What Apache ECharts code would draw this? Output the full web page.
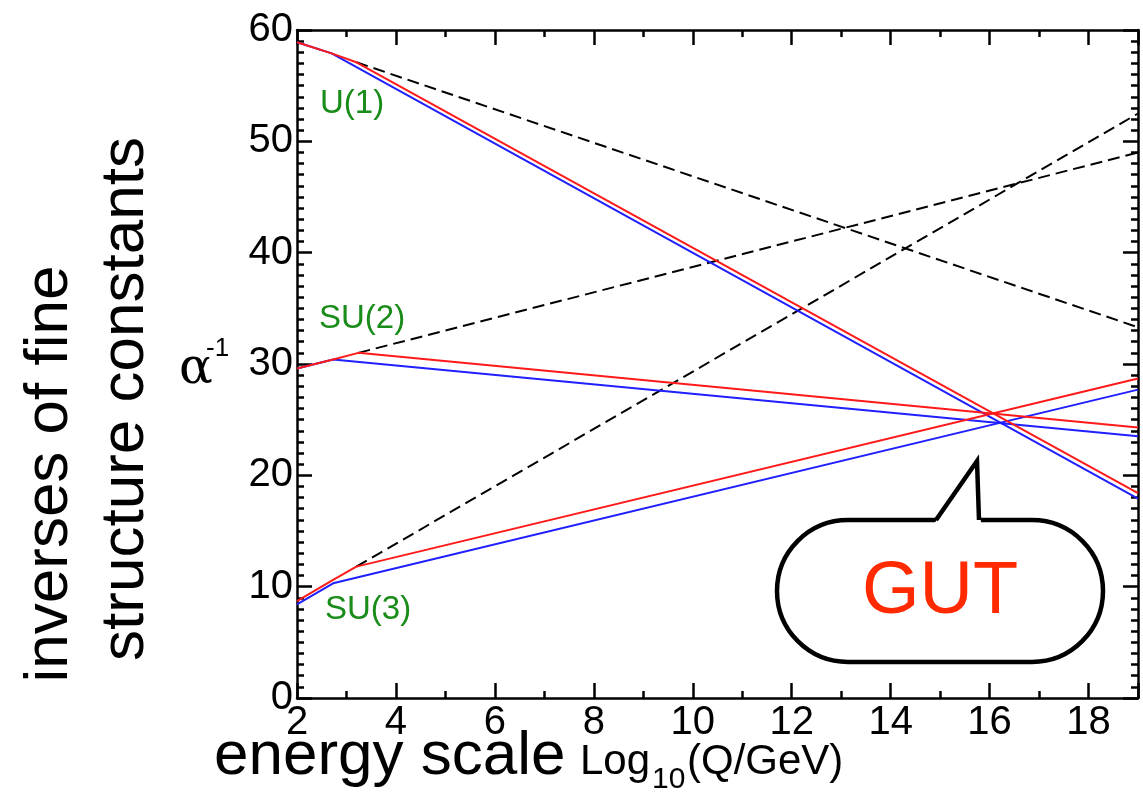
<!DOCTYPE html>
<html><head><meta charset="utf-8">
<script src="https://cdn.jsdelivr.net/npm/echarts@6/dist/echarts.min.js"></script>
<style>html,body{margin:0;padding:0;background:#fff}#c{width:1143px;height:794px}</style>
</head><body><div id="c"></div>
<script>
// ---- data (x = log10(Q/GeV), y = inverse coupling) ----
const u1Blue   = [[2, 58.9], [2.7, 57.9], [19, 17.9]];
const u1Red    = [[2, 58.9], [2.7, 57.9], [3.2, 57.1], [19, 18.4]];
const u1Dash   = [[3.2, 57.1], [19, 33.3]];
const su2Blue  = [[2, 29.6], [2.73, 30.4], [19, 23.5]];
const su2Red   = [[2, 29.6], [2.73, 30.4], [3.24, 31.0], [19, 24.3]];
const su2Dash  = [[3.24, 31.0], [19, 49.0]];
const su3Blue  = [[2, 8.4], [2.73, 10.3], [19, 27.7]];
const su3Red   = [[2, 8.7], [2.73, 10.6], [3.2, 11.8], [19, 28.7]];
const su3Dash  = [[3.2, 11.8], [19, 52.5]];
const groupLabels = ['U(1)', 'SU(2)', 'SU(3)'];
const xMin = 2, xMax = 19, xMajor = 2, xMinor = 1;
const yMin = 0, yMax = 60, yMajor = 10;

const FONT = '"Liberation Sans", Arial, Helvetica, sans-serif';
const BLUE = '#1f1fff', RED = '#ff1a1a', GREEN = '#1a8c1a';

const chart = echarts.init(document.getElementById('c'), null, {renderer: 'canvas'});

const tickStyle = {color: '#000', width: 2.5};
function xAx(pos, interval, len, main) {
  return {
    type: 'value', position: pos, min: xMin, max: xMax, interval: interval,
    axisLine: {show: main, onZero: false, lineStyle: {color: '#000', width: 2.5}},
    axisTick: {show: true, inside: true, length: len, lineStyle: tickStyle},
    axisLabel: (main && pos === 'bottom') ? {
      show: true, fontSize: 40, color: '#000', fontFamily: FONT, margin: 5,
      formatter: v => (v % 2 === 0 ? String(v) : '')
    } : {show: false},
    splitLine: {show: false}
  };
}
function yAx(pos, labels) {
  return {
    type: 'value', position: pos, min: yMin, max: yMax, interval: yMajor,
    axisLine: {show: true, onZero: false, lineStyle: {color: '#000', width: 2.5}},
    axisTick: {show: true, inside: true, length: 15, lineStyle: tickStyle},
    minorTick: {show: true, splitNumber: 10, length: 7, lineStyle: tickStyle},
    axisLabel: labels ? {show: true, fontSize: 40, color: '#000', fontFamily: FONT, margin: 4} : {show: false},
    splitLine: {show: false}, minorSplitLine: {show: false}
  };
}
function ser(data, color, dashed) {
  return {
    type: 'line', data: data, xAxisIndex: 0, yAxisIndex: 0,
    showSymbol: false, symbol: 'none', silent: true, animation: false,
    z: dashed ? 2 : 3,
    lineStyle: {color: color, width: 2, type: dashed ? [12, 6] : 'solid'}
  };
}

const option = {
  animation: false,
  backgroundColor: '#fff',
  grid: {left: 297, right: 5, top: 30, bottom: 96, containLabel: false},
  xAxis: [xAx('bottom', xMajor, 15, true), xAx('bottom', xMinor, 7, false),
          xAx('top', xMajor, 15, true), xAx('top', xMinor, 7, false)],
  yAxis: [yAx('left', true), yAx('right', false)],
  series: [
    ser(u1Dash, '#000', true), ser(su2Dash, '#000', true), ser(su3Dash, '#000', true),
    ser(u1Blue, BLUE), ser(su2Blue, BLUE), ser(su3Blue, BLUE),
    ser(u1Red, RED), ser(su2Red, RED), ser(su3Red, RED)
  ]
};
chart.setOption(option);

function txt(x, y, text, size, opts) {
  opts = opts || {};
  return {
    type: 'text', x: x, y: y, rotation: opts.rot || 0, z: 100,
    style: {
      text: text, fontSize: size, fontFamily: opts.family || FONT, fill: opts.fill || '#000',
      align: opts.align || 'left', verticalAlign: opts.va || 'middle',
      textAlign: opts.align || 'left', textVerticalAlign: opts.va || 'middle'
    }
  };
}

const graphics = [
  // y title (two rotated lines)
  txt(50, 474, 'inverses of fine', 62, {rot: Math.PI / 2, align: 'center'}),
  txt(126, 399, 'structure constants', 62, {rot: Math.PI / 2, align: 'center'}),
  // alpha^-1
  txt(179, 370, 'α', 50, {family: '"DejaVu Serif", "Liberation Serif", serif'}),
  txt(206, 349, '-1', 26),
  // x title
  txt(214, 757, 'energy scale', 62),
  txt(580, 762, 'Log', 42),
  txt(652, 780, '10', 30),
  txt(687, 762, '(Q/GeV)', 42),
  // group labels
  txt(320, 104, groupLabels[0], 33, {fill: GREEN}),
  txt(319, 319, groupLabels[1], 33, {fill: GREEN}),
  txt(325, 610, groupLabels[2], 33, {fill: GREEN}),
  // GUT bubble
  {type: 'rect', z: 100, shape: {x: 777, y: 520, width: 326, height: 142, r: 71},
   style: {fill: '#fff', stroke: '#000', lineWidth: 4.5}},
  {type: 'polygon', z: 101, shape: {points: [[934, 524], [977, 462], [981, 524]]},
   style: {fill: '#fff', stroke: null}},
  {type: 'polyline', z: 102, shape: {points: [[936, 520], [977, 461], [979, 520]]},
   style: {stroke: '#000', lineWidth: 4.5, fill: null, lineJoin: 'miter'}},
  txt(940, 593, 'GUT', 74, {fill: '#ff2a00', align: 'center'})
];
chart.setOption({graphic: {elements: graphics}});
</script></body></html>
